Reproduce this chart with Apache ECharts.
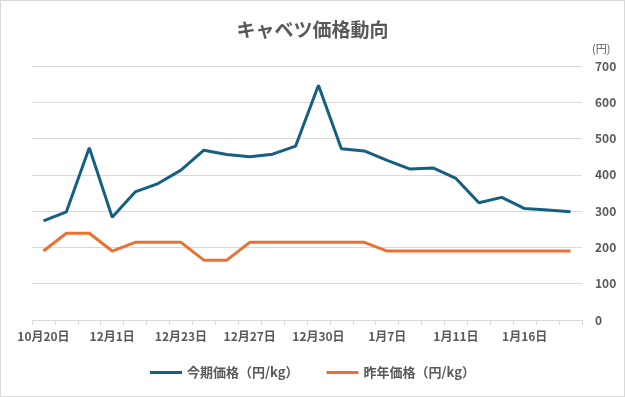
<!DOCTYPE html>
<html>
<head>
<meta charset="utf-8">
<script src="https://cdn.jsdelivr.net/npm/echarts@6/dist/echarts.min.js"></script>
<style>
  html, body {
    margin: 0;
    padding: 0;
    background: #ffffff;
  }
  #chart {
    position: absolute;
    left: 0;
    top: 0;
    width: 623px;
    height: 395px;
    border: 1px solid #d9d9d9;
  }
</style>
</head>
<body>
<div id="chart"></div>
<script>
  const categories = [
    '10月20日', '11月1日', '11月15日', '12月1日', '12月15日', '12月20日',
    '12月23日', '12月24日', '12月26日', '12月27日', '12月28日', '12月29日',
    '12月30日', '1月4日', '1月6日', '1月7日', '1月8日', '1月10日',
    '1月11日', '1月12日', '1月14日', '1月16日', '1月17日', '1月18日'
  ]
  const thisSeason = [
    273, 298, 475, 283, 353, 376, 413, 468, 456, 450, 457, 479,
    647, 472, 466, 440, 416, 419, 390, 323, 338, 307, 303, 298
  ]
  const lastYear = [
    190, 239, 239, 190, 214, 214, 214, 165, 165, 214, 214, 214,
    214, 214, 214, 190, 190, 190, 190, 190, 190, 190, 190, 190
  ]
  const seriesNames = ['今期価格（円/kg）', '昨年価格（円/kg）']

  const font = '"Noto Sans CJK JP", "Noto Sans", sans-serif'
  const textColor = '#595959'

  const chart = echarts.init(document.getElementById('chart'))
  chart.setOption({
    animation: false,
    textStyle: { fontFamily: font },
    title: {
      text: 'キャベツ価格動向',
      left: 'center',
      top: 14,
      textStyle: {
        fontFamily: font,
        fontSize: 19,
        fontWeight: 'bold',
        color: textColor
      }
    },
    legend: {
      bottom: 12,
      left: 'center',
      icon: 'rect',
      itemWidth: 32,
      itemHeight: 3,
      itemGap: 28,
      data: seriesNames,
      textStyle: {
        fontFamily: font,
        fontSize: 13,
        fontWeight: 'bold',
        color: textColor
      }
    },
    grid: {
      left: 31,
      right: 42,
      top: 65,
      bottom: 76
    },
    xAxis: {
      type: 'category',
      data: categories,
      boundaryGap: true,
      axisLine: { lineStyle: { color: '#d9d9d9', width: 1 } },
      axisTick: {
        show: true,
        interval: 0,
        length: 5,
        lineStyle: { color: '#d9d9d9' }
      },
      axisLabel: {
        interval: 2,
        margin: 10,
        fontFamily: font,
        fontSize: 12,
        fontWeight: 'bold',
        color: textColor
      }
    },
    yAxis: {
      type: 'value',
      position: 'right',
      min: 0,
      max: 700,
      interval: 100,
      name: '(円)',
      nameGap: 12,
      nameTextStyle: {
        fontFamily: font,
        fontSize: 11,
        color: textColor,
        align: 'left',
        padding: [0, 0, 0, 10]
      },
      axisLine: { show: false },
      axisTick: { show: false },
      axisLabel: {
        margin: 13,
        fontFamily: font,
        fontSize: 12,
        fontWeight: 'bold',
        color: textColor
      },
      splitLine: { lineStyle: { color: '#d9d9d9', width: 1 } }
    },
    series: [
      {
        name: seriesNames[0],
        type: 'line',
        data: thisSeason,
        showSymbol: false,
        symbol: 'none',
        color: '#156082',
        lineStyle: { width: 3, color: '#156082' }
      },
      {
        name: seriesNames[1],
        type: 'line',
        data: lastYear,
        showSymbol: false,
        symbol: 'none',
        color: '#E97132',
        lineStyle: { width: 3, color: '#E97132' }
      }
    ]
  })
</script>
</body>
</html>
